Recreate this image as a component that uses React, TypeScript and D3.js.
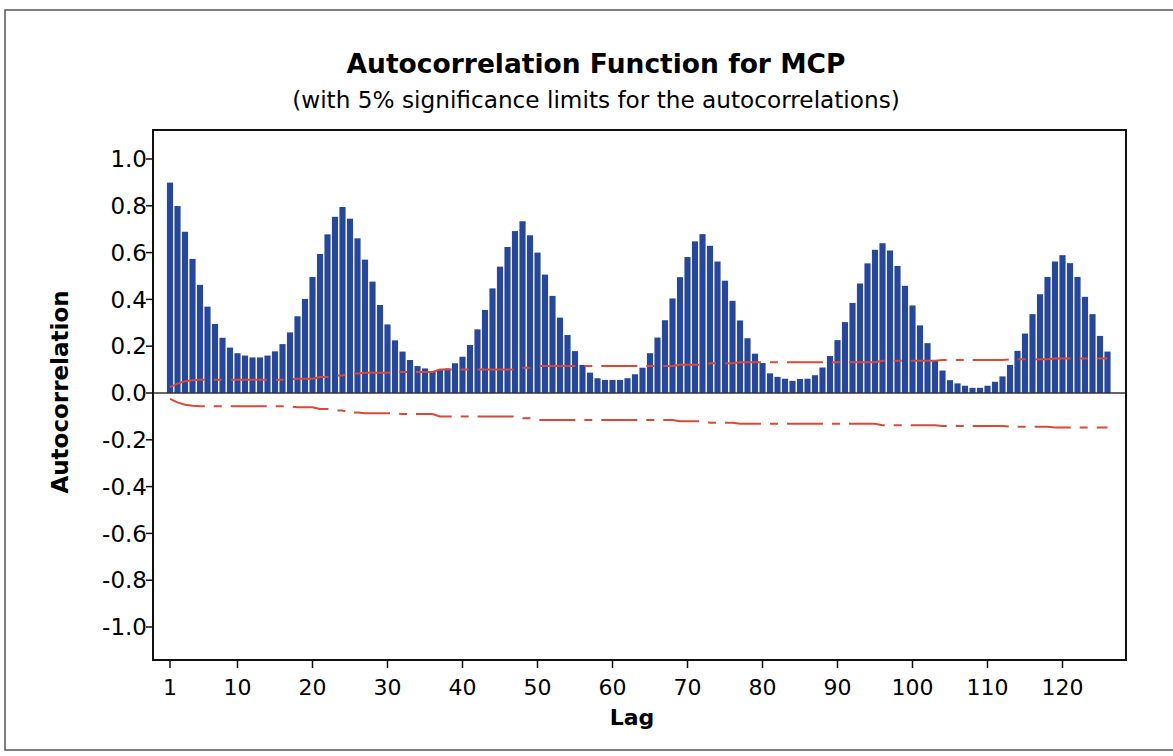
import React from "react";
import * as d3 from "d3";

const title = "Autocorrelation Function for MCP";
const subtitle = "(with 5% significance limits for the autocorrelations)";
const xLabel = "Lag";
const yLabel = "Autocorrelation";

const lags: number[] = Array.from({ length: 126 }, (_, i) => i + 1);

const acf: number[] = [
  0.899, 0.799, 0.689, 0.573, 0.462, 0.369, 0.295, 0.236, 0.194, 0.170,
  0.160, 0.152, 0.152, 0.160, 0.178, 0.209, 0.259, 0.328, 0.402, 0.496,
  0.594, 0.678, 0.753, 0.795, 0.745, 0.661, 0.570, 0.476, 0.376, 0.293,
  0.225, 0.177, 0.141, 0.115, 0.105, 0.094, 0.098, 0.105, 0.127, 0.155,
  0.205, 0.272, 0.355, 0.447, 0.540, 0.624, 0.692, 0.734, 0.674, 0.600,
  0.506, 0.415, 0.322, 0.248, 0.179, 0.120, 0.087, 0.063, 0.056, 0.056,
  0.056, 0.063, 0.080, 0.108, 0.170, 0.237, 0.311, 0.404, 0.495, 0.581,
  0.648, 0.679, 0.629, 0.562, 0.480, 0.394, 0.310, 0.234, 0.168, 0.128,
  0.084, 0.069, 0.061, 0.052, 0.060, 0.061, 0.076, 0.109, 0.158, 0.226,
  0.303, 0.385, 0.468, 0.554, 0.612, 0.640, 0.609, 0.543, 0.458, 0.374,
  0.289, 0.213, 0.139, 0.096, 0.055, 0.041, 0.031, 0.022, 0.022, 0.031,
  0.048, 0.071, 0.120, 0.180, 0.254, 0.337, 0.422, 0.496, 0.562, 0.589,
  0.555, 0.496, 0.411, 0.337, 0.244, 0.177,
];

const upperLimit: number[] = [
  0.025, 0.040, 0.050, 0.054, 0.057, 0.057, 0.057, 0.057, 0.057, 0.057,
  0.057, 0.057, 0.057, 0.057, 0.057, 0.057, 0.057, 0.061, 0.061, 0.061,
  0.068, 0.068, 0.075, 0.075, 0.083, 0.083, 0.087, 0.087, 0.087, 0.087,
  0.087, 0.090, 0.090, 0.090, 0.090, 0.090, 0.100, 0.100, 0.100, 0.100,
  0.100, 0.100, 0.100, 0.100, 0.100, 0.100, 0.100, 0.108, 0.108, 0.115,
  0.115, 0.115, 0.115, 0.115, 0.115, 0.115, 0.115, 0.115, 0.115, 0.115,
  0.115, 0.115, 0.115, 0.115, 0.115, 0.115, 0.115, 0.115, 0.121, 0.121,
  0.121, 0.121, 0.127, 0.127, 0.127, 0.127, 0.131, 0.131, 0.131, 0.131,
  0.131, 0.131, 0.131, 0.131, 0.131, 0.131, 0.131, 0.131, 0.131, 0.131,
  0.131, 0.131, 0.131, 0.131, 0.131, 0.138, 0.138, 0.138, 0.138, 0.138,
  0.138, 0.138, 0.138, 0.141, 0.141, 0.141, 0.141, 0.141, 0.141, 0.141,
  0.141, 0.141, 0.144, 0.144, 0.144, 0.144, 0.144, 0.144, 0.147, 0.147,
  0.147, 0.147, 0.147, 0.147, 0.147, 0.147,
];

const xTicks: number[] = [1, 10, 20, 30, 40, 50, 60, 70, 80, 90, 100, 110, 120];
const yTicks: number[] = [1.0, 0.8, 0.6, 0.4, 0.2, 0.0, -0.2, -0.4, -0.6, -0.8, -1.0];

const W = 1173;
const H = 756;
const frame = { left: 153, right: 1126, top: 130, bottom: 660 };
const barColor = "#27479b";
const limitColor = "#d8493a";
const font = "'DejaVu Sans', Verdana, sans-serif";

export default function App() {
  const x = d3.scaleLinear().domain([1, 126]).range([170, 1107.5]);
  const y = d3.scaleLinear().domain([-1, 1]).range([627, 159]);
  const step = x(2) - x(1);
  const bw = step * 0.82;

  const upperLine = d3
    .line<number>()
    .x((_, i) => x(lags[i]))
    .y((d) => y(d));
  const lowerLine = d3
    .line<number>()
    .x((_, i) => x(lags[i]))
    .y((d) => y(-d));

  const y0 = y(0);

  return (
    <svg
      width={W}
      height={H}
      style={{ position: "absolute", left: 0, top: 0, background: "#fff" }}
    >
      <rect x={0} y={0} width={W} height={H} fill="#fff" />
      <rect x={5} y={10} width={W + 10} height={740} fill="none" stroke="#555" strokeWidth={1.5} />

      <text x={596} y={73} textAnchor="middle" fontFamily={font} fontWeight="bold" fontSize={26.5} fill="#000">
        {title}
      </text>
      <text x={596} y={108} textAnchor="middle" fontFamily={font} fontSize={23.2} fill="#000">
        {subtitle}
      </text>

      {acf.map((v, i) => (
        <rect
          key={i}
          x={x(lags[i]) - bw / 2}
          y={Math.min(y(v), y0)}
          width={bw}
          height={Math.abs(y0 - y(v))}
          fill={barColor}
        />
      ))}

      <line x1={frame.left} x2={frame.right} y1={y0} y2={y0} stroke="#333" strokeWidth={1.5} />

      <path d={upperLine(upperLimit) || ""} fill="none" stroke={limitColor} strokeWidth={2} strokeDasharray="36,9,8,9" />
      <path d={lowerLine(upperLimit) || ""} fill="none" stroke={limitColor} strokeWidth={2} strokeDasharray="36,9,8,9" />

      <rect
        x={frame.left}
        y={frame.top}
        width={frame.right - frame.left}
        height={frame.bottom - frame.top}
        fill="none"
        stroke="#111"
        strokeWidth={2}
      />

      {yTicks.map((t) => (
        <g key={t}>
          <line x1={frame.left - 7} x2={frame.left} y1={y(t)} y2={y(t)} stroke="#111" strokeWidth={1.5} />
          <text
            x={frame.left - 6}
            y={y(t)}
            dy="0.36em"
            textAnchor="end"
            fontFamily={font}
            fontSize={23}
            fill="#000"
          >
            {t.toFixed(1)}
          </text>
        </g>
      ))}

      {xTicks.map((t) => (
        <g key={t}>
          <line x1={x(t)} x2={x(t)} y1={frame.bottom} y2={frame.bottom + 8} stroke="#111" strokeWidth={1.5} />
          <text x={x(t)} y={695} textAnchor="middle" fontFamily={font} fontSize={22} fill="#000">
            {t}
          </text>
        </g>
      ))}

      <text x={632} y={725} textAnchor="middle" fontFamily={font} fontWeight="bold" fontSize={22} fill="#000">
        {xLabel}
      </text>
      <text
        transform={`translate(68, 392) rotate(-90)`}
        textAnchor="middle"
        fontFamily={font}
        fontWeight="bold"
        fontSize={23}
        fill="#000"
      >
        {yLabel}
      </text>
    </svg>
  );
}
